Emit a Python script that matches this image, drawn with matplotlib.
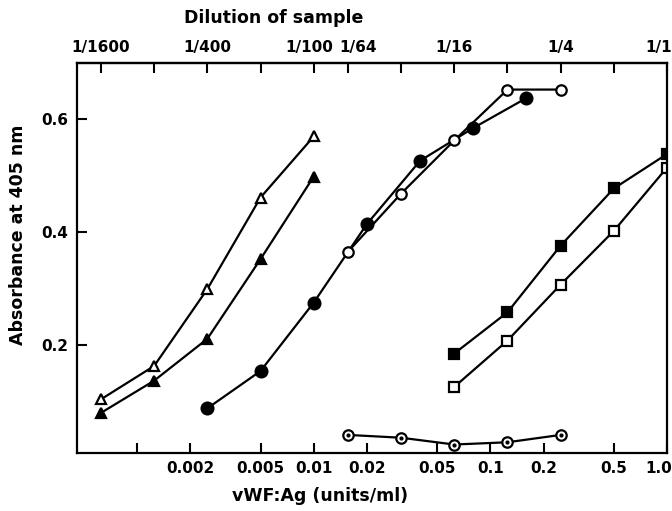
import matplotlib
matplotlib.use("Agg")
import matplotlib.pyplot as plt
import matplotlib.transforms as mtransforms

# vWF:Ag concentration (units/ml) and absorbance at 405 nm for each series
tri_open_x = [0.000625, 0.00125, 0.0025, 0.005, 0.01]
tri_open_y = [0.104, 0.163, 0.299, 0.461, 0.569]
tri_fill_x = [0.000625, 0.00125, 0.0025, 0.005, 0.01]
tri_fill_y = [0.080, 0.137, 0.211, 0.352, 0.498]

circ_fill_x = [0.0025, 0.005, 0.01, 0.02, 0.04, 0.08, 0.16]
circ_fill_y = [0.088, 0.154, 0.275, 0.414, 0.526, 0.584, 0.637]
circ_open_x = [0.015625, 0.03125, 0.0625, 0.125, 0.25]
circ_open_y = [0.365, 0.468, 0.562, 0.652, 0.652]

sq_fill_x = [0.0625, 0.125, 0.25, 0.5, 1.0]
sq_fill_y = [0.185, 0.258, 0.376, 0.477, 0.538]
sq_open_x = [0.0625, 0.125, 0.25, 0.5, 1.0]
sq_open_y = [0.126, 0.208, 0.307, 0.402, 0.514]

blank_x = [0.015625, 0.03125, 0.0625, 0.125, 0.25]
blank_y = [0.041, 0.036, 0.024, 0.028, 0.041]

# axis ticks
bottom_ticks = [0.001, 0.002, 0.005, 0.01, 0.02, 0.05, 0.1, 0.2, 0.5, 1.0]
bottom_labels = ['', '0.002', '0.005', '0.01', '0.02', '0.05', '0.1', '0.2', '0.5', '1.0']
top_ticks = [1/1600, 1/800, 1/400, 1/200, 1/100, 1/64, 1/32, 1/16, 1/8, 1/4, 1/2, 1.0]
top_labels = ['1/1600', '', '1/400', '', '1/100', '1/64', '', '1/16', '', '1/4', '', '1/1']
y_ticks = [0.2, 0.4, 0.6]

plt.rcParams['font.family'] = ['DejaVu Sans']
plt.rcParams['font.weight'] = 'bold'

fig = plt.figure(figsize=(6.72, 5.11), dpi=100)
ax = fig.add_axes([0.114, 0.1135, 0.8786, 0.7632])

lw = 1.6
ms = 7.5
mew = 1.6
ax.plot(tri_open_x, tri_open_y, '-^', color='black', lw=lw, ms=ms, mfc='white', mec='black', mew=mew)
ax.plot(tri_fill_x, tri_fill_y, '-^', color='black', lw=lw, ms=ms, mfc='black', mec='black', mew=mew)
ax.plot(circ_fill_x, circ_fill_y, '-o', color='black', lw=lw, ms=ms + 1, mfc='black', mec='black', mew=mew)
ax.plot(circ_open_x, circ_open_y, '-o', color='black', lw=lw, ms=ms, mfc='white', mec='black', mew=mew)
ax.plot(sq_fill_x, sq_fill_y, '-s', color='black', lw=lw, ms=ms, mfc='black', mec='black', mew=mew)
ax.plot(sq_open_x, sq_open_y, '-s', color='black', lw=lw, ms=ms, mfc='white', mec='black', mew=mew)
ax.plot(blank_x, blank_y, '-o', color='black', lw=lw, ms=ms, mfc='white', mec='black', mew=mew)
ax.plot(blank_x, blank_y, 'o', color='black', ms=2)

ax.set_xscale('log')
ax.set_xlim(0.000455, 1.0)
ax.set_ylim(0.009, 0.699)

ax.set_xticks(bottom_ticks)
ax.set_xticklabels(bottom_labels)
ax.xaxis.set_minor_locator(matplotlib.ticker.NullLocator())
ax.set_yticks(y_ticks)
ax.set_yticklabels(['0.2', '0.4', '0.6'])
ax.tick_params(direction='in', length=7, width=1.5, labelsize=11, pad=6)

top = ax.secondary_xaxis('top')
top.set_xticks(top_ticks)
top.set_xticklabels(top_labels)
top.xaxis.set_minor_locator(matplotlib.ticker.NullLocator())
top.tick_params(direction='in', length=7, width=1.5, labelsize=11, pad=6)
top.spines['top'].set_linewidth(1.6)

for s in ax.spines.values():
    s.set_linewidth(1.6)


def nudge(label, dx):
    label.set_transform(label.get_transform()
                        + mtransforms.ScaledTranslation(dx, 0, fig.dpi_scale_trans))


# keep the last labels inside the figure, and pull 1/100 and 1/64 apart
bot_lbls = ax.get_xticklabels()
bot_lbls[-1].set_ha('right')
nudge(bot_lbls[-1], 0.05)
top_lbls = top.get_xticklabels()
top_lbls[-1].set_ha('right')
nudge(top_lbls[-1], 0.05)
nudge(top_lbls[4], -0.04)
nudge(top_lbls[5], 0.10)

fig.text(0.408, 0.965, 'Dilution of sample', ha='center', va='center', fontsize=12.5, fontweight='bold')
fig.text(0.476, 0.030, 'vWF:Ag (units/ml)', ha='center', va='center', fontsize=12.5, fontweight='bold')
fig.text(0.027, 0.54, 'Absorbance at 405 nm', ha='center', va='center', rotation=90, fontsize=12.5, fontweight='bold')

fig.savefig('out.png', dpi=100)
